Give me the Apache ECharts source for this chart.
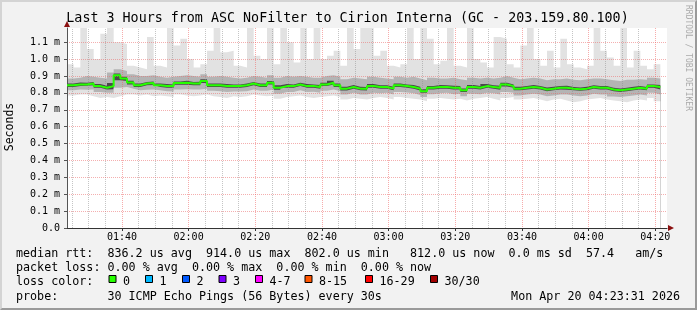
<!DOCTYPE html>
<html><head><meta charset="utf-8">
<script src="https://cdn.jsdelivr.net/npm/echarts@6/dist/echarts.min.js"></script>
<style>
html,body{margin:0;padding:0;background:#f2f2f2;}
#wrap{position:relative;width:697px;height:310px;}
#c{position:absolute;left:0;top:0;width:697px;height:310px;}
#frame{position:absolute;left:0;top:0;width:697px;height:310px;box-sizing:border-box;border-top:2px solid #d4d4d4;border-left:2px solid #d4d4d4;border-bottom:2px solid #9a9a9a;border-right:2px solid #9a9a9a;pointer-events:none;}
</style></head>
<body><div id="wrap"><div id="c"></div><div id="frame"></div></div>
<script>
// ---- data (ms) ----
const startTime = '01:23:31';
const spanMinutes = 180;
const stepMinutes = 2;
const titleText = 'Last 3 Hours from ASC NoFilter to Cirion Interna (GC - 203.159.80.100)';
const yMax = 1.184;

const medianRtt = [0.845,0.85,0.85,0.855,0.84,0.83,0.84,0.905,0.885,0.862,
0.845,0.855,0.858,0.845,0.84,0.84,0.858,0.86,0.855,0.855,
0.87,0.845,0.845,0.84,0.84,0.84,0.845,0.855,0.845,0.845,
0.86,0.83,0.84,0.84,0.85,0.84,0.84,0.835,0.85,0.86,
0.845,0.825,0.835,0.825,0.825,0.84,0.835,0.835,0.825,0.845,
0.84,0.835,0.825,0.81,0.83,0.835,0.835,0.83,0.83,0.815,
0.835,0.83,0.84,0.835,0.83,0.85,0.84,0.825,0.83,0.835,
0.83,0.82,0.825,0.83,0.83,0.825,0.822,0.825,0.835,0.83,
0.83,0.82,0.815,0.82,0.825,0.83,0.825,0.84,0.835];

const maxRtt = [0.97,0.95,1.2,1.06,1.0,1.15,1.2,1.10,1.09,0.96,
0.95,0.94,1.13,0.96,0.95,1.2,1.08,1.12,1.0,0.95,
0.97,1.05,1.2,1.04,1.05,0.96,0.95,1.2,1.02,1.0,
1.2,0.97,1.2,1.10,0.98,1.2,1.0,1.2,1.0,1.02,
1.05,0.96,1.2,1.06,1.2,1.2,1.02,1.05,0.96,0.95,
0.97,1.2,1.0,1.2,1.12,0.97,0.99,1.2,0.96,0.95,
1.2,1.0,0.98,0.95,1.13,1.12,0.97,0.95,1.08,1.2,
1.0,0.96,1.05,0.95,1.12,0.97,0.95,0.94,0.96,1.2,
1.05,1.01,0.96,1.2,0.95,1.05,0.96,0.94,0.97];

const hiMid = [0.885,0.89,0.9,0.895,0.89,0.885,0.92,0.94,0.93,0.91,
0.9,0.9,0.905,0.895,0.89,0.895,0.9,0.905,0.9,0.895,
0.91,0.895,0.9,0.895,0.89,0.885,0.89,0.9,0.895,0.89,
0.905,0.89,0.9,0.895,0.9,0.895,0.89,0.89,0.9,0.905,
0.895,0.88,0.89,0.885,0.88,0.895,0.89,0.885,0.88,0.895,
0.89,0.895,0.885,0.875,0.89,0.885,0.885,0.89,0.88,0.875,
0.89,0.885,0.89,0.885,0.89,0.9,0.89,0.88,0.885,0.89,
0.885,0.875,0.88,0.88,0.885,0.878,0.875,0.88,0.885,0.885,
0.88,0.875,0.87,0.878,0.878,0.88,0.878,0.89,0.885];

const hiCore = [0.855,0.862,0.86,0.865,0.852,0.842,0.858,0.915,0.895,0.872,
0.856,0.865,0.868,0.855,0.852,0.85,0.868,0.872,0.864,0.866,
0.88,0.856,0.855,0.852,0.85,0.85,0.856,0.865,0.856,0.855,
0.87,0.845,0.852,0.85,0.86,0.852,0.85,0.846,0.86,0.872,
0.855,0.836,0.846,0.836,0.835,0.852,0.845,0.845,0.836,0.856,
0.85,0.846,0.836,0.822,0.84,0.846,0.845,0.842,0.84,0.826,
0.846,0.84,0.852,0.845,0.842,0.86,0.85,0.836,0.84,0.846,
0.84,0.832,0.836,0.84,0.842,0.835,0.832,0.836,0.845,0.84,
0.84,0.83,0.826,0.83,0.836,0.84,0.835,0.85,0.846];

const loCore = [0.835,0.84,0.842,0.845,0.83,0.82,0.822,0.875,0.87,0.85,
0.835,0.845,0.846,0.835,0.83,0.83,0.848,0.848,0.845,0.845,
0.858,0.835,0.834,0.83,0.83,0.83,0.835,0.845,0.835,0.835,
0.85,0.818,0.83,0.83,0.84,0.83,0.83,0.825,0.84,0.85,
0.835,0.814,0.825,0.815,0.814,0.83,0.825,0.824,0.815,0.834,
0.83,0.825,0.814,0.8,0.82,0.825,0.825,0.82,0.82,0.805,
0.824,0.82,0.83,0.825,0.818,0.838,0.83,0.815,0.82,0.825,
0.82,0.81,0.815,0.82,0.818,0.815,0.812,0.815,0.825,0.82,
0.82,0.81,0.805,0.81,0.815,0.82,0.815,0.83,0.82];

const loMid = [0.815,0.82,0.818,0.82,0.805,0.8,0.8,0.83,0.835,0.825,
0.815,0.818,0.82,0.815,0.81,0.808,0.82,0.822,0.82,0.82,
0.825,0.812,0.81,0.805,0.808,0.808,0.81,0.82,0.812,0.812,
0.82,0.795,0.805,0.805,0.815,0.805,0.806,0.8,0.812,0.82,
0.81,0.79,0.8,0.79,0.79,0.8,0.798,0.8,0.79,0.805,
0.802,0.798,0.788,0.775,0.792,0.798,0.8,0.792,0.795,0.78,
0.795,0.792,0.8,0.798,0.79,0.805,0.8,0.785,0.79,0.795,
0.79,0.78,0.785,0.79,0.79,0.785,0.78,0.785,0.795,0.79,
0.79,0.778,0.775,0.78,0.785,0.79,0.785,0.8,0.79];

const minRtt = [0.785,0.79,0.79,0.78,0.77,0.775,0.77,0.78,0.79,0.79,
0.785,0.79,0.78,0.785,0.78,0.775,0.79,0.785,0.78,0.785,
0.79,0.78,0.775,0.77,0.78,0.775,0.78,0.79,0.785,0.78,
0.785,0.765,0.775,0.78,0.785,0.775,0.77,0.775,0.78,0.785,
0.775,0.76,0.77,0.765,0.76,0.77,0.775,0.77,0.76,0.775,
0.77,0.765,0.76,0.75,0.765,0.77,0.765,0.76,0.765,0.755,
0.765,0.77,0.775,0.765,0.755,0.77,0.775,0.76,0.765,0.77,
0.76,0.75,0.76,0.765,0.755,0.745,0.75,0.76,0.765,0.77,
0.76,0.755,0.75,0.745,0.755,0.76,0.755,0.77,0.75];

const legendLines = [
  'median rtt:  836.2 us avg  914.0 us max  802.0 us min   812.0 us now  0.0 ms sd  57.4   am/s',
  'packet loss: 0.00 % avg  0.00 % max  0.00 % min  0.00 % now',
  'loss color:',
  'probe:       30 ICMP Echo Pings (56 Bytes) every 30s'
];
const lossLabels = ['0','1','2','3','4-7','8-15','16-29','30/30'];
const lossColors = ['#26ff00','#00b8ff','#0059ff','#7e00ff','#ff00ff','#ff5500','#ff0000','#a10000'];
const dateText = 'Mon Apr 20 04:23:31 2026';
const creditText = 'RRDTOOL / TOBI OETIKER';
const yAxisTitle = 'Seconds';

// ---- build ----
const MONO = '"DejaVu Sans Mono", monospace';
const p = startTime.split(':').map(Number);
const START = p[0]*60 + p[1] + p[2]/60;
const END = START + spanMinutes;
function pts(arr){
  const d = arr.map((v,i)=>[START + i*stepMinutes, v]);
  d.push([START + arr.length*stepMinutes, arr[arr.length-1]]);
  return d;
}
function pad(n){return (n<10?'0':'')+n;}
function band(arr, color){
  return {type:'line', data:pts(arr), step:'end', symbol:'none', showSymbol:false, silent:true,
    lineStyle:{width:0, opacity:0}, areaStyle:{color:color, opacity:1}, z:2, animation:false};
}
const minorLines = [];
for (let m = Math.ceil(START/5)*5; m < END; m += 5) {
  if (m % 20 !== 0) minorLines.push({xAxis:m});
}

const chart = echarts.init(document.getElementById('c'), null, {renderer:'canvas'});
const option = {
  animation:false,
  backgroundColor:'#f2f2f2',
  grid:{left:67, right:30, top:28, bottom:82, show:true, backgroundColor:'#ffffff', borderWidth:0},
  xAxis:{type:'value', min:START, max:END, minInterval:20, maxInterval:20, z:10,
    axisLine:{show:true, onZero:false, lineStyle:{color:'#333', width:1}},
    axisTick:{show:true, length:3, lineStyle:{color:'#333'}},
    axisLabel:{showMinLabel:false, showMaxLabel:false, color:'#000', fontFamily:MONO, fontSize:10, margin:4,
      formatter:v=>{const t=Math.round(v); return pad(Math.floor(t/60))+':'+pad(t%60);}},
    splitLine:{show:true, showMinLine:false, showMaxLine:false, lineStyle:{color:'rgba(240,90,90,0.5)', type:[1,1], width:1}}},
  yAxis:{type:'value', min:0, max:yMax, interval:0.1, z:10,
    axisLine:{show:true, lineStyle:{color:'#555', width:1}},
    axisTick:{show:true, length:3, lineStyle:{color:'#555'}},
    axisLabel:{showMaxLabel:false, color:'#000', fontFamily:MONO, fontSize:10, margin:7,
      formatter:v=> v===0 ? '0.0' : v.toFixed(1)+' m'},
    splitLine:{show:true, showMinLine:false, showMaxLine:false, lineStyle:{color:'rgba(235,110,110,0.55)', type:[1,1], width:1}}},
  series:[
    band(maxRtt,'#e2e2e2'),
    band(hiMid,'#b4b4b4'),
    band(hiCore,'#4a4a4a'),
    band(loCore,'#b4b4b4'),
    band(loMid,'#e2e2e2'),
    band(minRtt,'#ffffff'),
    {type:'line', data:[[START,0]], symbol:'none', lineStyle:{opacity:0}, silent:true, z:3,
      markLine:{silent:true, symbol:['none','none'], label:{show:false}, animation:false,
        lineStyle:{color:'rgba(140,140,140,0.5)', type:[1,1], width:1}, data:minorLines}},
    {type:'line', data:pts(medianRtt), step:'end', symbol:'none', showSymbol:false, silent:true, z:12,
      lineStyle:{color:'#26ff00', width:2}}
  ]
};
chart.setOption(option);

// decorations & texts
const o = chart.convertToPixel({xAxisIndex:0, yAxisIndex:0}, [START, 0]);
const tr = chart.convertToPixel({xAxisIndex:0, yAxisIndex:0}, [END, yMax]);
const g = [];
g.push({type:'text', x:347.5, y:19, z:20, style:{text:titleText, font:'13.35px '+MONO, fill:'#000', textAlign:'center', textVerticalAlign:'middle', align:'center', verticalAlign:'middle'}});
g.push({type:'text', x:10, y:127, rotation:Math.PI/2, z:20, style:{text:yAxisTitle, font:'11.5px '+MONO, fill:'#000', textAlign:'center', textVerticalAlign:'middle', align:'center', verticalAlign:'middle'}});
g.push({type:'text', x:688, y:5, rotation:-Math.PI/2, z:20, style:{text:creditText, font:'8px '+MONO, fill:'#aaaaaa', textAlign:'left', textVerticalAlign:'middle', align:'left', verticalAlign:'middle'}});
g.push({type:'polygon', z:20, shape:{points:[[o[0]-3, tr[1]-1],[o[0]+3, tr[1]-1],[o[0], tr[1]-7]]}, style:{fill:'#8b1010'}});
g.push({type:'polygon', z:20, shape:{points:[[tr[0]+1, o[1]-3],[tr[0]+1, o[1]+3],[tr[0]+7, o[1]]]}, style:{fill:'#8b1010'}});
const lineY = [254, 268, 282, 296.5];
const LFONT = '11.7px '+MONO;
legendLines.forEach((t,i)=>g.push({type:'text', x:16, y:lineY[i], z:20, style:{text:t, font:LFONT, fill:'#000', textVerticalAlign:'middle', verticalAlign:'middle'}}));
const boxX = [108.5,145,182,218.5,255,304.5,365,430];
lossLabels.forEach((t,i)=>{
  g.push({type:'rect', z:20, shape:{x:boxX[i]+0.5, y:275.5, width:7, height:7}, style:{fill:lossColors[i], stroke:'#000', lineWidth:1}});
  g.push({type:'text', x:boxX[i]+14.5, y:lineY[2], z:20, style:{text:t, font:LFONT, fill:'#000', textVerticalAlign:'middle', verticalAlign:'middle'}});
});
g.push({type:'text', x:680, y:lineY[3], z:20, style:{text:dateText, font:LFONT, fill:'#000', textAlign:'right', align:'right', textVerticalAlign:'middle', verticalAlign:'middle'}});
chart.setOption({graphic:g});
</script>
</body></html>
